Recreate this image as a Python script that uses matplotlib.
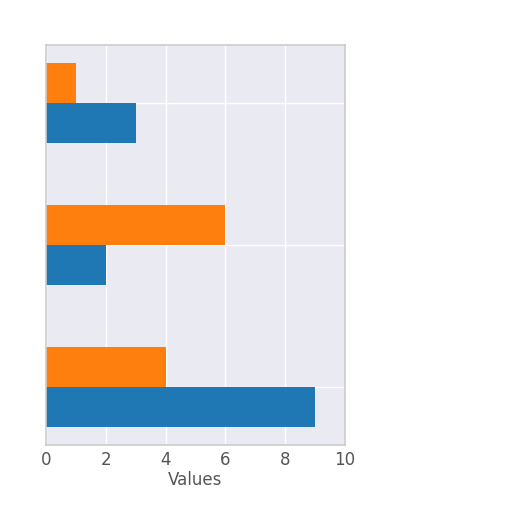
import numpy as np
import matplotlib
matplotlib.use("Agg")
import matplotlib.pyplot as plt

groups = ["A", "B", "C"]
orange_vals = [1, 6, 4]
blue_vals = [3, 2, 9]

fig = plt.figure(figsize=(5.12, 5.12), dpi=100)
ax = fig.add_axes([46 / 512, 67 / 512, 299 / 512, 400 / 512])
ax.set_facecolor("#EAEAF2")

pos = np.arange(len(groups))[::-1]
h = 0.28
ax.barh(pos + h / 2, orange_vals, height=h, color="#FF7F0E", zorder=2)
ax.barh(pos - h / 2, blue_vals, height=h, color="#1F77B4", zorder=2)

ax.set_xlim(0, 10)
ax.set_xticks(range(0, 11, 2))
ax.set_yticks(pos)
ax.set_yticklabels([])
ax.grid(True, color="white", linewidth=1.0, zorder=0)
ax.set_axisbelow(True)
ax.tick_params(axis="both", length=0, labelsize=12, labelcolor="#555555", pad=4)
for s in ax.spines.values():
    s.set_color("#cccccc")
    s.set_linewidth(1.2)
ax.set_xlabel("Values", fontsize=12, color="#555555", labelpad=2)

fig.savefig("out.png", dpi=100)
